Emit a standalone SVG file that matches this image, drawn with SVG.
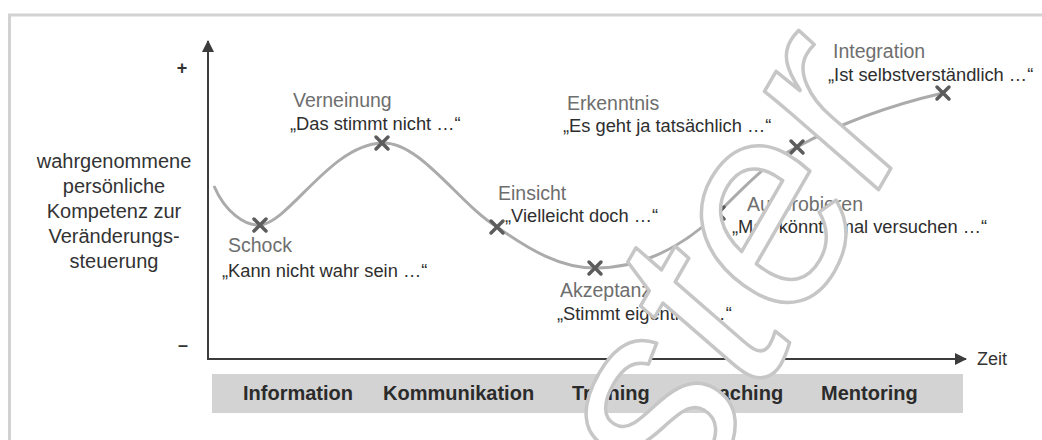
<svg xmlns="http://www.w3.org/2000/svg" width="1042" height="440" viewBox="0 0 1042 440">
<style>
text{font-family:"Liberation Sans",Arial,sans-serif}
.lbl{font-size:20px;fill:#333;text-anchor:middle}
.hd{font-size:19.5px;fill:#6e6e6e}
.qt{font-size:18.3px;fill:#2e2e2e}
.bar{font-size:20px;font-weight:bold;fill:#2b2b2b}
.mk{stroke:#5c5c5c;stroke-width:3.5;stroke-linecap:round}
.axis{stroke:#3c3c3c;stroke-width:2;fill:none}
.wm{font-size:280px;font-style:italic;fill:#fff;stroke:#c6c6c6;stroke-width:3.5;stroke-linejoin:round}
</style>
<defs>
<marker id="arr" viewBox="0 0 12 12" refX="11" refY="6" markerWidth="12" markerHeight="12" markerUnits="userSpaceOnUse" orient="auto">
<path d="M0,0 L12,6 L0,12 Z" fill="#3c3c3c"/>
</marker>
</defs>
<rect width="1042" height="440" fill="#fff"/>
<g id="frame" fill="none" stroke="#d2d2d2" stroke-width="3">
<path d="M9.5,440 V15 H1042"/>
</g>
<g id="bar-box">
<rect x="212" y="374" width="751" height="39" fill="#d3d3d3"/>
</g>
<g id="connectors">
<path class="axis" d="M208,360 V41" marker-end="url(#arr)"/>
<path class="axis" d="M208,359 H966" marker-end="url(#arr)"/>
<path d="M214,186 C225,212 245,226 260,225 C290,222 330,145 382,143 C420,141 460,205 497,227 C530,250 560,268 595,268 C650,268 690,240 718,213 C745,186 770,160 797,147 C850,118 900,103 943,93" fill="none" stroke="#ababab" stroke-width="3"/>
</g>
<g id="axis-labels">
<text x="182" y="74" font-size="18" font-weight="bold" fill="#333" text-anchor="middle">+</text>
<text x="183" y="351" font-size="18" font-weight="bold" fill="#333" text-anchor="middle">–</text>
<text x="977" y="365" font-size="18" fill="#333">Zeit</text>
</g>
<g id="y-label">
<text class="lbl" x="114" y="168">wahrgenommene</text>
<text class="lbl" x="114" y="193">persönliche</text>
<text class="lbl" x="114" y="218">Kompetenz zur</text>
<text class="lbl" x="114" y="243">Veränderungs-</text>
<text class="lbl" x="114" y="268">steuerung</text>
</g>
<g id="schock">
<path class="mk" d="M254,219 L266,231 M266,219 L254,231"/>
<text class="hd" x="228" y="252">Schock</text>
<text class="qt" x="222" y="277">„Kann nicht wahr sein …“</text>
</g>
<g id="verneinung">
<path class="mk" d="M376,137 L388,149 M388,137 L376,149"/>
<text class="hd" x="293" y="107">Verneinung</text>
<text class="qt" x="290" y="130">„Das stimmt nicht …“</text>
</g>
<g id="einsicht">
<path class="mk" d="M491,221 L503,233 M503,221 L491,233"/>
<text class="hd" x="498" y="200">Einsicht</text>
<text class="qt" x="505" y="222">„Vielleicht doch …“</text>
</g>
<g id="akzeptanz">
<path class="mk" d="M589,262 L601,274 M601,262 L589,274"/>
<text class="hd" x="560" y="297">Akzeptanz</text>
<text class="qt" x="557" y="320">„Stimmt eigentlich …“</text>
</g>
<g id="ausprobieren">
<path class="mk" d="M712,207 L724,219 M724,207 L712,219"/>
<text class="hd" x="747" y="211">Ausprobieren</text>
<text class="qt" x="732" y="233">„Man könnte mal versuchen …“</text>
</g>
<g id="erkenntnis">
<path class="mk" d="M791,141 L803,153 M803,141 L791,153"/>
<text class="hd" x="567" y="110">Erkenntnis</text>
<text class="qt" x="563" y="132">„Es geht ja tatsächlich …“</text>
</g>
<g id="integration">
<path class="mk" d="M937,87 L949,99 M949,87 L937,99"/>
<text class="hd" x="833" y="58">Integration</text>
<text class="qt" x="828" y="81">„Ist selbstverständlich …“</text>
</g>
<g id="phases">
<text class="bar" x="243" y="400">Information</text>
<text class="bar" x="383" y="400">Kommunikation</text>
<text class="bar" x="572" y="400">Training</text>
<text class="bar" x="692" y="400">Coaching</text>
<text class="bar" x="821" y="400">Mentoring</text>
</g>
<g id="watermark">
<text class="wm" transform="translate(495,854) rotate(-60)">Muster</text>
</g>
</svg>
